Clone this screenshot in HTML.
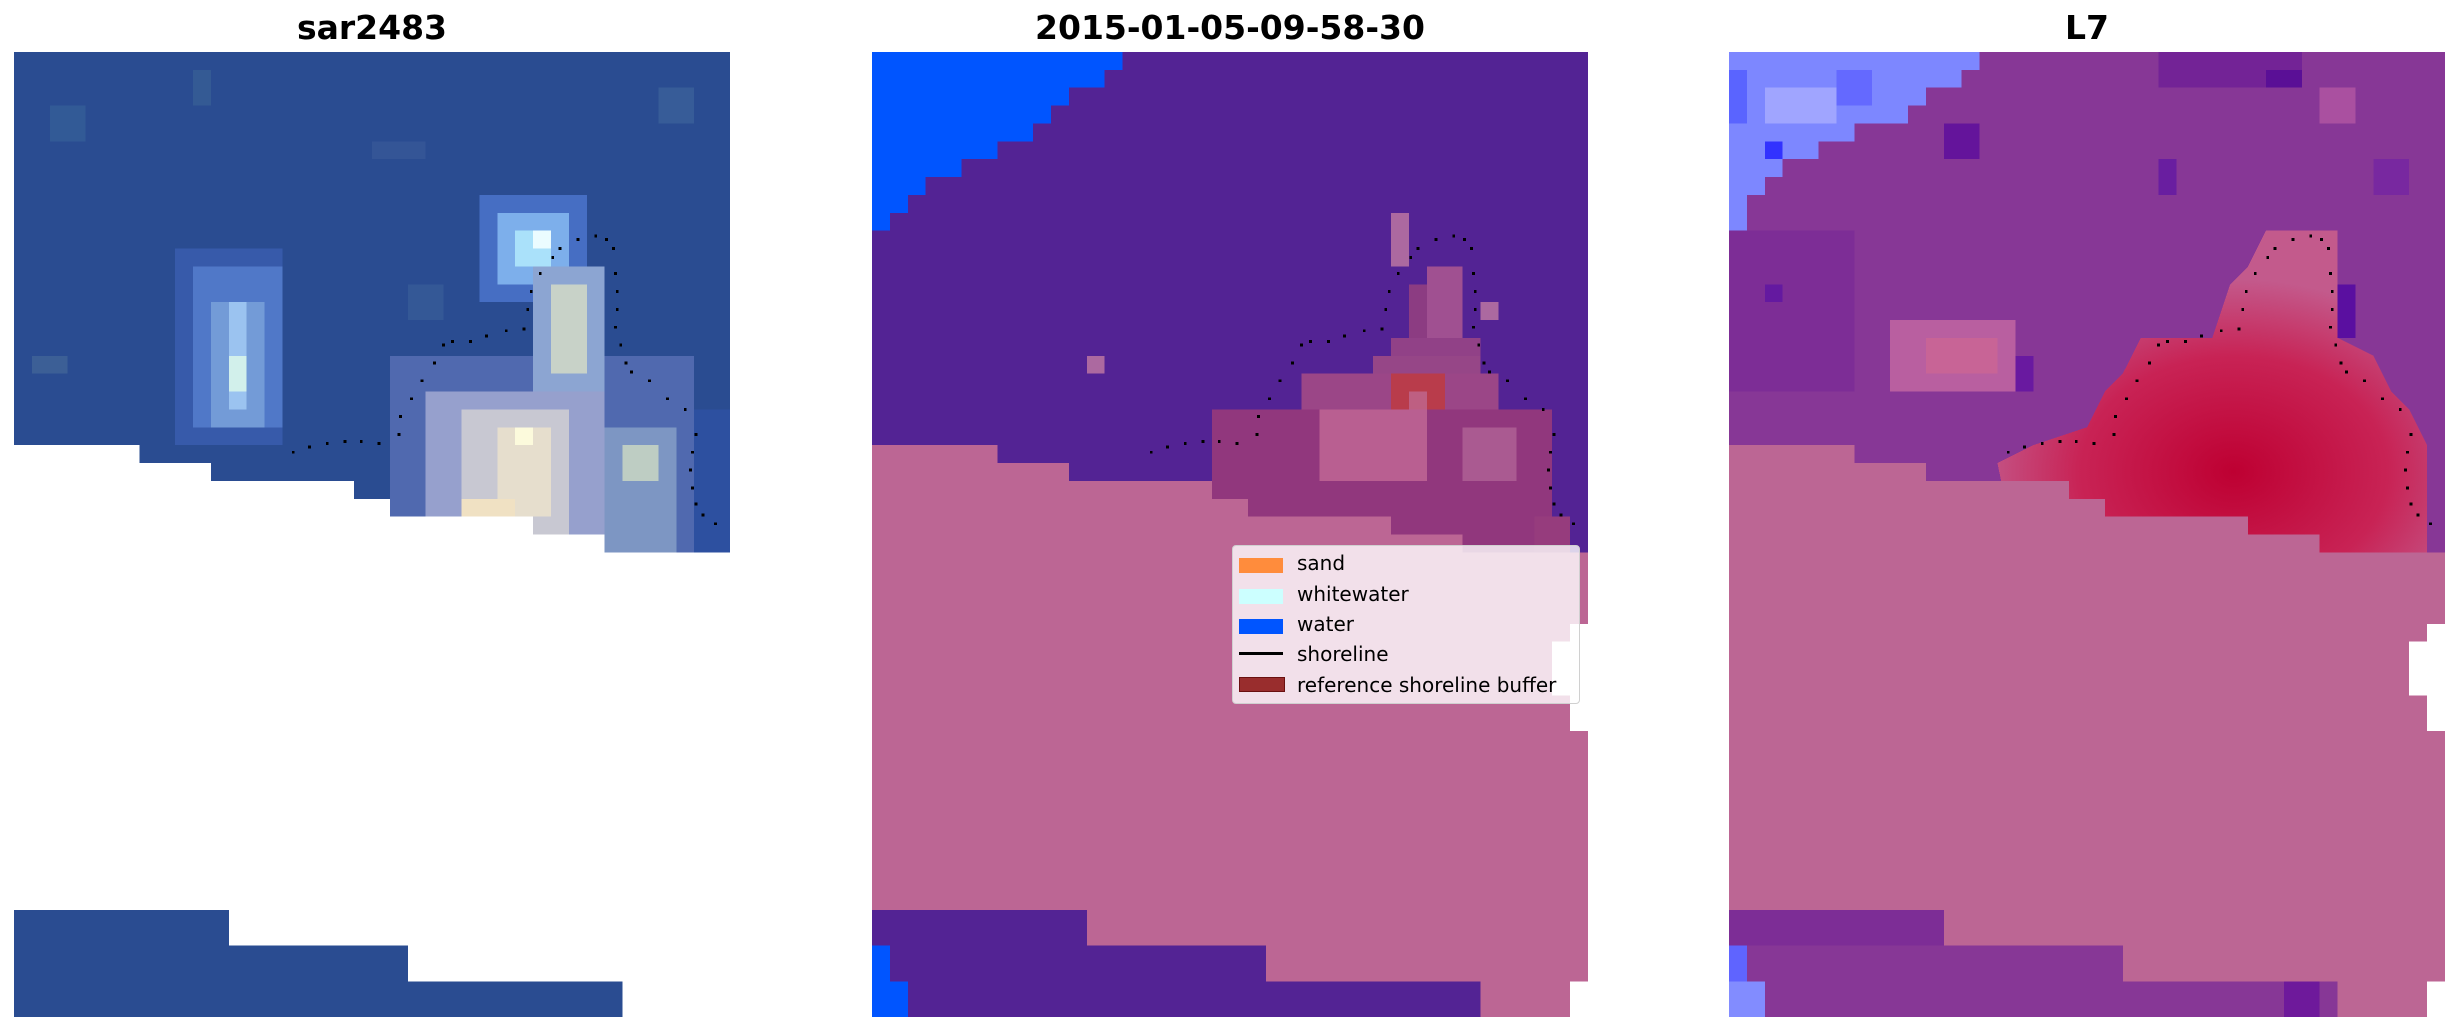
<!DOCTYPE html>
<html><head><meta charset="utf-8"><style>
html,body{margin:0;padding:0;background:#fff;width:2460px;height:1033px;overflow:hidden}
.t{position:absolute;top:8px;font:bold 33px "DejaVu Sans","Liberation Sans",sans-serif;text-align:center;width:716px;color:#000}
svg.p{position:absolute;top:52px;width:716px;height:965px}
.lg{position:absolute;left:1232px;top:545px;width:346px;height:157px;background:rgba(255,255,255,0.8);border:1px solid #d0d0d0;border-radius:4px;font:20px "DejaVu Sans","Liberation Sans",sans-serif;color:#000}
.lg div{position:absolute;left:64px;line-height:24px}
.lg span{position:absolute;left:6px;width:44px;height:15px}
</style></head><body>
<div class="t" style="left:14px">sar2483</div>
<div class="t" style="left:872px">2015-01-05-09-58-30</div>
<div class="t" style="left:1729px">L7</div>

<!-- Panel 1 -->
<svg class="p" style="left:14px" viewBox="0 0 40 54" preserveAspectRatio="none" shape-rendering="crispEdges">
<rect width="40" height="54" fill="rgb(42,76,145)"/>
<rect x="2" y="3" width="2" height="2" fill="rgb(50,90,150)"/><rect x="10" y="1" width="1" height="2" fill="rgb(52,90,148)"/><rect x="20" y="5" width="3" height="1" fill="rgb(52,85,150)"/><rect x="36" y="2" width="2" height="2" fill="rgb(55,92,152)"/><rect x="1" y="17" width="2" height="1" fill="rgb(60,95,150)"/><rect x="22" y="13" width="2" height="2" fill="rgb(52,88,150)"/>
<rect x="9" y="11" width="6" height="11" fill="rgb(55,90,170)"/>
<rect x="10" y="12" width="5" height="9" fill="rgb(80,120,200)"/>
<rect x="11" y="14" width="3" height="7" fill="rgb(115,155,215)"/>
<rect x="12" y="14" width="1" height="6" fill="rgb(155,195,240)"/>
<rect x="12" y="17" width="1" height="2" fill="rgb(210,240,235)"/>
<rect x="26" y="8" width="6" height="6" fill="rgb(70,110,195)"/>
<rect x="27" y="9" width="4" height="4" fill="rgb(125,175,235)"/>
<rect x="28" y="10" width="2" height="2" fill="rgb(170,225,250)"/>
<rect x="29" y="10" width="1" height="1" fill="rgb(235,252,255)"/>
<rect x="21" y="17" width="17" height="11" fill="rgb(80,105,175)"/>
<rect x="29" y="12" width="4" height="9" fill="rgb(140,165,210)"/>
<rect x="30" y="13" width="2" height="5" fill="rgb(200,210,200)"/>
<rect x="23" y="19" width="10" height="8" fill="rgb(150,160,205)"/>
<rect x="25" y="20" width="6" height="7" fill="rgb(200,200,210)"/>
<rect x="27" y="21" width="3" height="5" fill="rgb(230,222,205)"/>
<rect x="28" y="21" width="1" height="1" fill="rgb(252,250,220)"/>
<rect x="25" y="25" width="3" height="1" fill="rgb(240,225,195)"/>
<rect x="33" y="21" width="4" height="7" fill="rgb(125,150,195)"/>
<rect x="34" y="22" width="2" height="2" fill="rgb(190,205,195)"/>
<rect x="38" y="20" width="2" height="8" fill="rgb(45,80,160)"/>
<polygon fill="#fff" points="0,22 7,22 7,23 11,23 11,24 19,24 19,25 21,25 21,26 29,26 29,27 33,27 33,28 40,28 40,54 34,54 34,52 22,52 22,50 12,50 12,48 0,48"/>
<g fill="#000" class="sh"></g>
</svg>

<!-- Panel 2 -->
<svg class="p" style="left:872px" viewBox="0 0 40 54" preserveAspectRatio="none" shape-rendering="crispEdges">
<rect width="40" height="54" fill="rgb(83,35,148)"/>
<path fill="rgb(0,85,255)" d="M0,0H14V1H13V2H11V3H10V4H9V5H7V6H5V7H3V8H2V9H1V10H0Z"/>
<rect x="29" y="9" width="1" height="3" fill="rgb(172,105,160)"/>
<rect x="34" y="14" width="1" height="1" fill="rgb(172,105,160)"/>
<rect x="12" y="17" width="1" height="1" fill="rgb(172,105,160)"/>
<rect x="31" y="12" width="2" height="4" fill="rgb(160,80,145)"/>
<rect x="30" y="13" width="1" height="3" fill="rgb(140,60,130)"/>
<rect x="29" y="16" width="5" height="2" fill="rgb(145,65,135)"/>
<rect x="28" y="17" width="6" height="2" fill="rgb(150,70,135)"/>
<rect x="24" y="18" width="11" height="3" fill="rgb(155,70,135)"/>
<rect x="19" y="20" width="19" height="8" fill="rgb(145,55,125)"/>
<rect x="25" y="20" width="6" height="4" fill="rgb(185,95,145)"/>
<rect x="33" y="21" width="3" height="3" fill="rgb(170,90,145)"/>
<rect x="37" y="26" width="2" height="2" fill="rgb(150,60,125)"/>
<rect x="29" y="18" width="3" height="2" fill="rgb(185,60,75)"/>
<rect x="30" y="19" width="1" height="1" fill="rgb(190,95,130)"/>
<polygon fill="rgb(188,102,148)" points="0,22 7,22 7,23 11,23 11,24 19,24 19,25 21,25 21,26 29,26 29,27 33,27 33,28 40,28 40,52 39,52 39,54 34,54 34,52 22,52 22,50 12,50 12,48 0,48"/>
<rect x="39" y="32" width="1" height="6" fill="#fff"/><rect x="38" y="33" width="1" height="3" fill="#fff"/><rect x="39" y="52" width="1" height="2" fill="#fff"/>
<rect x="0" y="50" width="1" height="4" fill="rgb(0,85,255)"/><rect x="1" y="52" width="1" height="2" fill="rgb(0,85,255)"/>
<g fill="#000" class="sh"></g>
</svg>

<!-- Panel 3 -->
<svg class="p" style="left:1729px" viewBox="0 0 40 54" preserveAspectRatio="none" shape-rendering="crispEdges">
<defs><radialGradient id="rg" cx="0.55" cy="0.75" r="0.6"><stop offset="0" stop-color="rgb(190,0,50)"/><stop offset="0.6" stop-color="rgb(200,35,85)"/><stop offset="1" stop-color="rgb(195,90,140)"/></radialGradient></defs>
<rect width="40" height="54" fill="rgb(135,55,150)"/>
<rect x="24" y="0" width="8" height="2" fill="rgb(115,35,150)"/><rect x="30" y="1" width="2" height="1" fill="rgb(90,15,150)"/><rect x="12" y="4" width="2" height="2" fill="rgb(100,20,155)"/><rect x="24" y="6" width="1" height="2" fill="rgb(105,30,160)"/><rect x="0" y="10" width="7" height="9" fill="rgb(125,45,150)"/><rect x="2" y="13" width="1" height="1" fill="rgb(100,25,160)"/><rect x="16" y="17" width="1" height="2" fill="rgb(105,25,160)"/><rect x="34" y="13" width="1" height="3" fill="rgb(90,15,160)"/><rect x="36" y="6" width="2" height="2" fill="rgb(120,40,160)"/><rect x="33" y="2" width="2" height="2" fill="rgb(170,80,160)"/>
<path fill="rgb(125,135,255)" d="M0,0H14V1H13V2H11V3H10V4H7V5H5V6H3V7H2V8H1V10H0Z"/>
<rect x="2" y="2" width="4" height="2" fill="rgb(160,165,255)"/><rect x="2" y="5" width="1" height="1" fill="rgb(50,50,255)"/><rect x="0" y="1" width="1" height="3" fill="rgb(90,100,255)"/><rect x="6" y="1" width="2" height="2" fill="rgb(100,105,255)"/>
<rect x="9" y="15" width="7" height="4" fill="rgb(185,95,160)"/><rect x="11" y="16" width="4" height="2" fill="rgb(200,100,150)"/>
<polygon fill="url(#rg)" points="30,10 34,10 34,16 36,17 37,19 38,20 39,22 39,28 16,28 15,23 17,22 20,21 21,19 22,18 23,16 27,16 28,13 29,12"/>
<polygon fill="rgb(188,102,148)" points="0,22 7,22 7,23 11,23 11,24 19,24 19,25 21,25 21,26 29,26 29,27 33,27 33,28 40,28 40,52 39,52 39,54 34,54 34,52 22,52 22,50 12,50 12,48 0,48"/>
<rect x="39" y="32" width="1" height="6" fill="#fff"/><rect x="38" y="33" width="1" height="3" fill="#fff"/><rect x="39" y="52" width="1" height="2" fill="#fff"/>
<rect x="0" y="48" width="12" height="2" fill="rgb(125,45,150)"/><rect x="0" y="50" width="1" height="2" fill="rgb(95,100,255)"/><rect x="0" y="52" width="2" height="2" fill="rgb(130,140,255)"/>
<rect x="31" y="52" width="2" height="2" fill="rgb(110,25,155)"/>
<g fill="#000" class="sh"></g>
</svg>

<div class="lg">
<span style="top:12px;background:#ff8c3c"></span><div style="top:5px">sand</div>
<span style="top:43px;background:#ccffff"></span><div style="top:36px">whitewater</div>
<span style="top:73px;background:#0055ff"></span><div style="top:66px">water</div>
<span style="top:106px;height:3px;background:#000"></span><div style="top:96px">shoreline</div>
<span style="top:131px;height:13px;background:#992d2d;border:1px solid #6a1010"></span><div style="top:127px">reference shoreline buffer</div>
</div>

<script>
var pts=[[15.6,22.4],[16.5,22.1],[17.5,21.9],[18.5,21.8],[19.4,21.8],[20.4,21.9],[21.5,21.4],[21.6,20.4],[22.2,19.4],[22.8,18.4],[23.5,17.4],[24,16.4],[24.5,16.2],[25.5,16.2],[26.4,15.9],[27.5,15.6],[28.5,15.5],[28.7,14.4],[28.9,13.4],[29.4,12.4],[30.1,11.5],[30.5,11],[31.5,10.5],[32.5,10.3],[33.1,10.5],[33.5,11],[33.6,12.4],[33.7,13.4],[33.7,14.4],[33.6,15.4],[33.9,16.4],[34.2,17.4],[34.5,17.9],[35.5,18.4],[36.5,19.4],[37.5,20],[38.1,21.4],[37.9,22.4],[37.8,23.4],[37.9,24.4],[38.1,25.3],[38.5,25.9],[39.2,26.4]];
var s='';pts.forEach(function(p){s+='<rect x="'+(p[0]-0.08)+'" y="'+(p[1]-0.08)+'" width="0.16" height="0.16"/>';});
document.querySelectorAll('.sh').forEach(function(g){g.innerHTML=s;});
</script>
</body></html>
